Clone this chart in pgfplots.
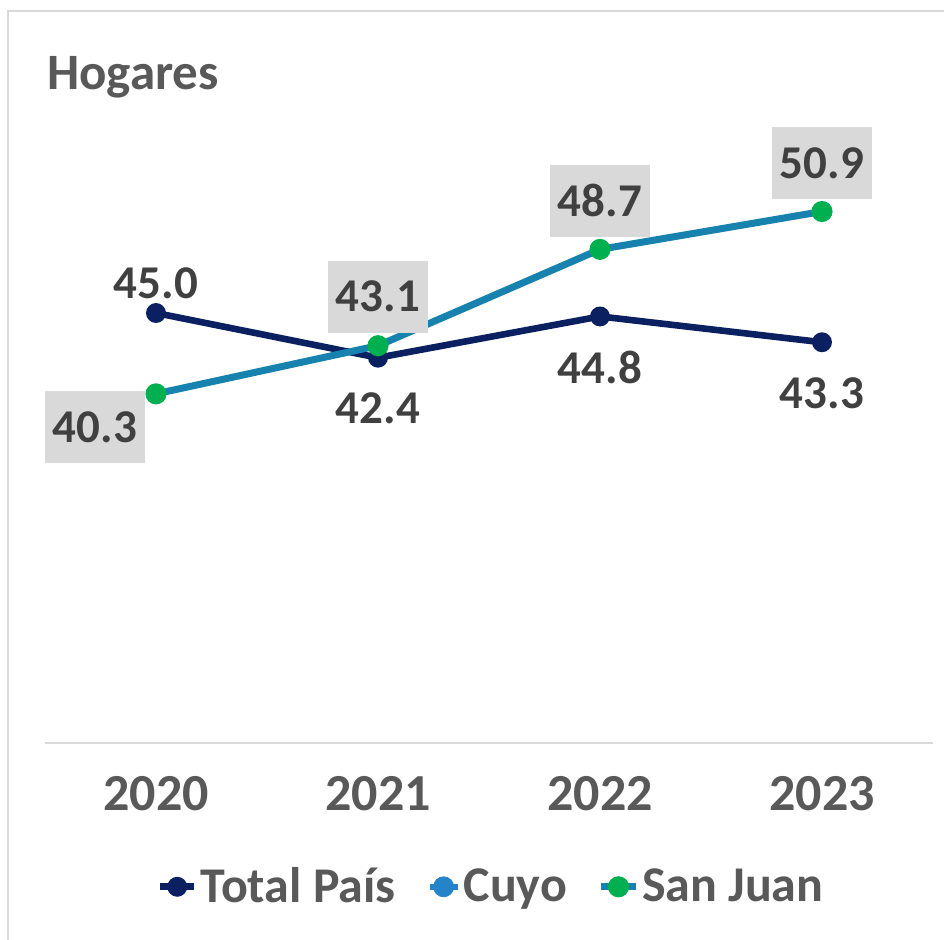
\documentclass[border=0pt]{standalone}
\usepackage{fontspec}
\setmainfont{Carlito}
\usepackage{pgfplots}
\usepackage{pgfplotstable}
\pgfplotsset{compat=1.18}
\definecolor{navy}{HTML}{0A2060}
\definecolor{teal}{HTML}{1782AE}
\definecolor{sjgreen}{HTML}{00B050}
\definecolor{cuyoblue}{HTML}{2584C9}
\definecolor{labtext}{HTML}{404040}
\definecolor{ticktext}{HTML}{595959}
\definecolor{boxgray}{HTML}{D9D9D9}
\definecolor{linegray}{HTML}{D9D9D9}

\pgfplotstableread{
x y dy lab
0 45.0 14.75 45.0
1 42.4 -25.5 42.4
2 44.8 -25.5 44.8
3 43.3 -25.5 43.3
}\total

\pgfplotstableread{
x y dx dy lab
0 40.3 -30.5 -16.5 40.3
1 43.1 0 24.5 43.1
2 48.7 0 24.25 48.7
3 50.9 0 24.25 50.9
}\sanjuan

\begin{document}
\begin{tikzpicture}
\useasboundingbox (0,0) rectangle (472pt,469.5pt);
\draw[linegray, line width=0.6pt] (4pt,-5pt) -- (4pt,464pt) -- (480pt,464pt);
\begin{axis}[
  at={(22.5pt,98pt)}, anchor=south west,
  scale only axis, width=444pt, height=344pt,
  xmin=-0.5, xmax=3.5, ymin=20, ymax=60,
  axis x line=bottom, axis y line=none,
  x axis line style={-, draw=linegray, line width=0.75pt},
  xtick={0,1,2,3}, xticklabels={2020,2021,2022,2023},
  major tick length=0pt, ytick=\empty,
  xticklabel style={anchor=base, yshift=-33.5pt, text=ticktext,
    font=\fontsize{26}{30}\selectfont\bfseries},
  clip=false,
  title={Hogares},
  title style={at={(rel axis cs:0.002,0.933)}, anchor=base west, inner sep=0pt,
    text=ticktext, font=\fontsize{25.5}{30}\selectfont\bfseries},
  legend columns=3,
  legend style={at={(0.503,-0.209)}, anchor=center, draw=none, fill=none,
    font=\fontsize{25}{30}\selectfont\bfseries, text=ticktext,
    nodes={inner sep=1.5pt},
    /tikz/every even column/.append style={column sep=14pt}},
]
\addplot[navy, line width=3.3pt, mark=*, mark size=3.3pt,
  mark options={fill=navy, draw=navy},
  point meta=explicit symbolic,
  visualization depends on={\thisrow{dy} \as \dy},
  nodes near coords,
  every node near coord/.append style={anchor=center, yshift=\dy pt,
    text=labtext, font=\fontsize{23.5}{28}\selectfont\bfseries}]
  table[x=x, y=y, meta=lab] {\total};
\addlegendentry{Total País}
\addlegendimage{legend image code/.code={
  \draw[cuyoblue, line width=3pt] (-7pt,0) -- (7pt,0);
  \fill[cuyoblue] (0,0) circle (5pt);}}
\addlegendentry{Cuyo}
\addplot[teal, line width=3.5pt, mark=*, mark size=3.5pt,
  mark options={fill=sjgreen, draw=sjgreen},
  point meta=explicit symbolic,
  visualization depends on={\thisrow{dx} \as \dx},
  visualization depends on={\thisrow{dy} \as \dy},
  nodes near coords,
  every node near coord/.append style={anchor=center, xshift=\dx pt, yshift=\dy pt,
    text=labtext, fill=boxgray, minimum width=50pt, minimum height=36pt, inner sep=0pt,
    font=\fontsize{23.5}{28}\selectfont\bfseries}]
  table[x=x, y=y, meta=lab] {\sanjuan};
\addlegendentry{San Juan}
\end{axis}
\end{tikzpicture}
\end{document}
